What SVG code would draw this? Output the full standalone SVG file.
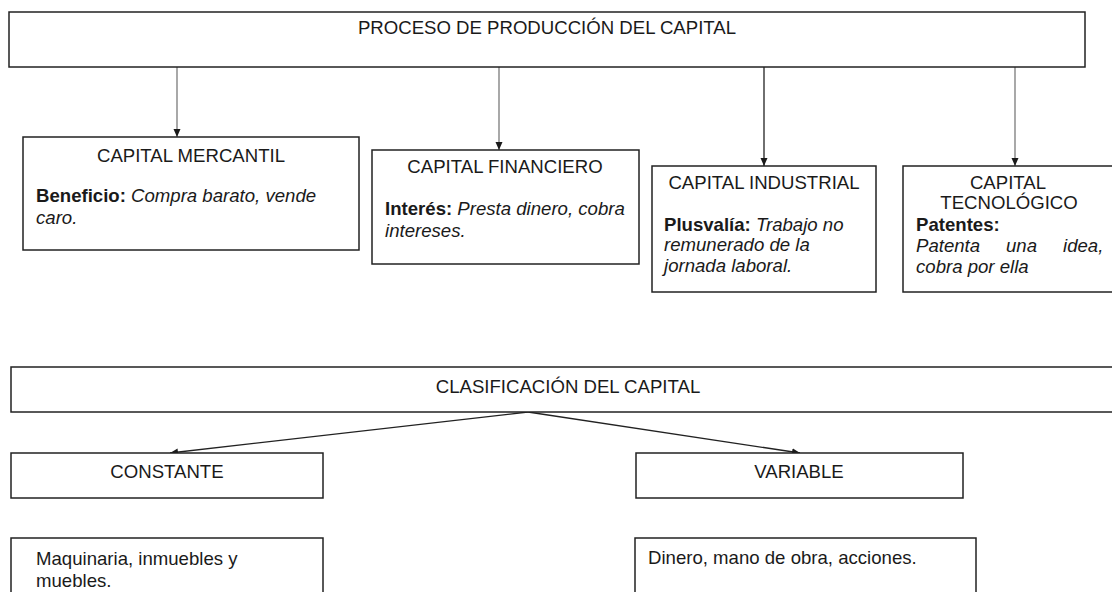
<svg xmlns="http://www.w3.org/2000/svg" width="1112" height="592" viewBox="0 0 1112 592">
<style>
  .box { fill: #ffffff; stroke: #222222; stroke-width: 1.5; }
  text { font-family: "Liberation Sans", Arial, sans-serif; font-size: 18.6px; fill: #1a1a1a; }
  .c { text-anchor: middle; }
  .b { font-weight: bold; }
  .i { font-style: italic; }
  .conn { fill: none; stroke-width: 1.3; }
  .gray { stroke: #7a7a7a; }
  .dark { stroke: #222222; }
</style>
<defs>
  <marker id="arr" markerUnits="userSpaceOnUse" markerWidth="8" markerHeight="8" viewBox="0 0 8 8" refX="8" refY="4" orient="auto">
    <path d="M0,0.5 L8,4 L0,7.5 Z" fill="#1a1a1a"/>
  </marker>
</defs>
<rect width="1112" height="592" fill="#ffffff"/>

<g id="connectors">
  <line class="conn gray" x1="177" y1="67" x2="177" y2="137" marker-end="url(#arr)"/>
  <line class="conn gray" x1="499" y1="67" x2="499" y2="150" marker-end="url(#arr)"/>
  <line class="conn dark" x1="764" y1="67" x2="764" y2="166" marker-end="url(#arr)"/>
  <line class="conn gray" x1="1015" y1="67" x2="1015" y2="166" marker-end="url(#arr)"/>
  <line class="conn dark" x1="528" y1="412" x2="170" y2="453" marker-end="url(#arr)"/>
  <line class="conn dark" x1="528" y1="412" x2="800" y2="453" marker-end="url(#arr)"/>
</g>

<g id="proceso">
  <rect class="box" x="9" y="12" width="1076" height="55"/>
  <text class="c" x="547" y="34">PROCESO DE PRODUCCIÓN DEL CAPITAL</text>
</g>

<g id="mercantil">
  <rect class="box" x="23" y="137" width="336" height="113"/>
  <text class="c" x="191" y="162">CAPITAL MERCANTIL</text>
  <text x="36" y="202"><tspan class="b">Beneficio:</tspan><tspan class="i"> Compra barato, vende</tspan></text>
  <text class="i" x="36" y="224">caro.</text>
</g>

<g id="financiero">
  <rect class="box" x="372" y="150" width="267" height="114"/>
  <text class="c" x="505" y="173">CAPITAL FINANCIERO</text>
  <text x="385" y="215"><tspan class="b">Interés:</tspan><tspan class="i"> Presta dinero, cobra</tspan></text>
  <text class="i" x="385" y="237">intereses.</text>
</g>

<g id="industrial">
  <rect class="box" x="652" y="166" width="224" height="126"/>
  <text class="c" x="764" y="189">CAPITAL INDUSTRIAL</text>
  <text x="664" y="231"><tspan class="b">Plusvalía:</tspan><tspan class="i"> Trabajo no</tspan></text>
  <text class="i" x="664" y="251">remunerado de la</text>
  <text class="i" x="664" y="272">jornada laboral.</text>
</g>

<g id="tecnologico">
  <rect class="box" x="903" y="166" width="212" height="126"/>
  <text class="c" x="1008" y="189">CAPITAL</text>
  <text class="c" x="1009" y="209">TECNOLÓGICO</text>
  <text class="b" x="916" y="231">Patentes:</text>
  <text class="i" y="252"><tspan x="916">Patenta</tspan><tspan x="1006">una</tspan><tspan x="1063">idea,</tspan></text>
  <text class="i" x="916" y="273">cobra por ella</text>
</g>

<g id="clasificacion">
  <rect class="box" x="11" y="367" width="1106" height="45"/>
  <text class="c" x="568" y="393">CLASIFICACIÓN DEL CAPITAL</text>
</g>

<g id="constante">
  <rect class="box" x="11" y="453" width="312" height="45"/>
  <text class="c" x="167" y="478">CONSTANTE</text>
</g>

<g id="variable">
  <rect class="box" x="636" y="453" width="327" height="45"/>
  <text class="c" x="799" y="478">VARIABLE</text>
</g>

<g id="maquinaria">
  <rect class="box" x="11" y="538" width="312" height="70"/>
  <text x="36" y="565">Maquinaria, inmuebles y</text>
  <text x="36" y="587">muebles.</text>
</g>

<g id="dinero">
  <rect class="box" x="635" y="538" width="341" height="70"/>
  <text x="648" y="564">Dinero, mano de obra, acciones.</text>
</g>
</svg>
